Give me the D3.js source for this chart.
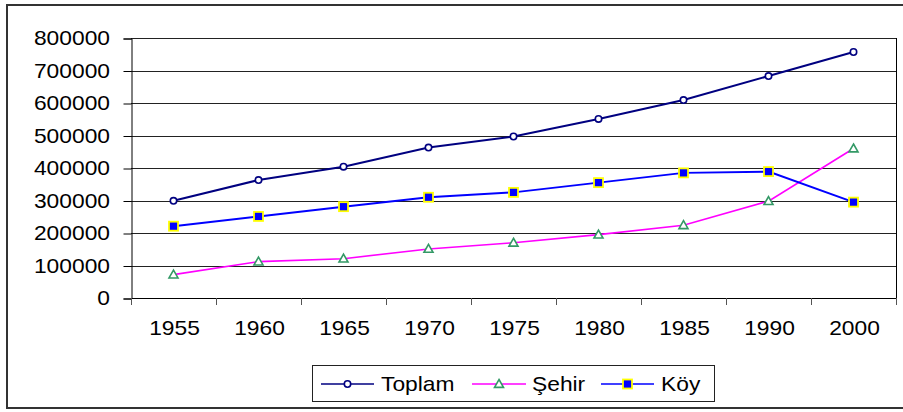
<!DOCTYPE html>
<html><head><meta charset="utf-8">
<script src="https://cdn.jsdelivr.net/npm/d3@7/dist/d3.min.js"></script>
<style>
html,body{margin:0;padding:0;background:#fff;}
svg{display:block;}
text{font-family:"Liberation Sans",Arial,sans-serif;font-size:20px;fill:#000;}
</style></head>
<body>
<svg id="chart" width="903" height="412"></svg>
<script>
const years = ["1955","1960","1965","1970","1975","1980","1985","1990","2000"];
const toplam = [299000,363000,404000,463000,497000,551000,609000,683000,757000];
const sehir  = [72000,112000,121000,151000,170000,195000,224000,298000,460000];
const koy    = [221000,251000,281000,310000,325000,355000,385000,389000,295000];
const yTicks = [0,100000,200000,300000,400000,500000,600000,700000,800000];
const seriesNames = ["Toplam","Şehir","Köy"];

const svg = d3.select("#chart");
const SX = 1.14;
function stretchText(g, x, y, str, anchor){
  return g.append("text")
    .attr("transform", `translate(${x},${y}) scale(${SX},1)`)
    .attr("text-anchor", anchor || "start")
    .text(str);
}

// outer border
svg.append("rect").attr("x",7).attr("y",5).attr("width",903).attr("height",403)
  .attr("fill","none").attr("stroke","#333").attr("stroke-width",2);

const L=131, R=896, T=38, B=298;
const x = d3.scaleBand().domain(years).range([L,R]).padding(0);
const y = d3.scaleLinear().domain([0,800000]).range([B,T]);

// gridlines
svg.append("g").selectAll("line").data(yTicks).join("line")
  .attr("x1",L).attr("x2",R)
  .attr("y1",d=>Math.round(y(d))+0.5).attr("y2",d=>Math.round(y(d))+0.5)
  .attr("stroke","#222").attr("stroke-width",1);

// plot right border
svg.append("line").attr("x1",R+0.5).attr("x2",R+0.5).attr("y1",T).attr("y2",B)
  .attr("stroke","#000");

// y axis
const yAxis = d3.axisLeft(y).tickValues(yTicks).tickSize(8).tickFormat(()=> "");
const yg = svg.append("g").attr("transform",`translate(${L+0.5},0.5)`).call(yAxis);
yg.select(".domain").attr("stroke","#000");
yg.selectAll(".tick line").attr("stroke","#000");
yTicks.forEach(t=>{
  stretchText(svg, 110, y(t)+7, String(t), "end");
});

// x axis
const xAxis = d3.axisBottom(x).tickSize(7).tickFormat(()=> "");
const xg = svg.append("g").attr("transform",`translate(0.5,${B+0.5})`).call(xAxis);
xg.select(".domain").remove();
xg.selectAll(".tick").remove();
svg.append("line").attr("x1",L).attr("x2",R).attr("y1",B+0.5).attr("y2",B+0.5).attr("stroke","#000");
const edges = years.map(d=>x(d)).concat([x(years[years.length-1])+x.bandwidth()]);
svg.append("g").selectAll("line").data(edges).join("line")
  .attr("x1",d=>Math.round(d)+0.5).attr("x2",d=>Math.round(d)+0.5)
  .attr("y1",B).attr("y2",B+7).attr("stroke","#555");
years.forEach(yr=>{
  stretchText(svg, x(yr)+x.bandwidth()/2+1, 335, yr, "middle");
});

const cx = d=>x(d)+x.bandwidth()/2;
const line = d3.line().x((v,i)=>cx(years[i])).y(v=>y(v));

// Toplam
svg.append("path").datum(toplam).attr("d",line).attr("fill","none")
  .attr("stroke","#000080").attr("stroke-width",2);
// Sehir
svg.append("path").datum(sehir).attr("d",line).attr("fill","none")
  .attr("stroke","#FF00FF").attr("stroke-width",1.6);
// Koy
svg.append("path").datum(koy).attr("d",line).attr("fill","none")
  .attr("stroke","#0000FF").attr("stroke-width",2);

function circleM(g,px,py){
  g.append("circle").attr("cx",px).attr("cy",py).attr("r",3.2)
   .attr("fill","#fff").attr("stroke","#000080").attr("stroke-width",1.6);
}
function triM(g,px,py){
  const s=4.5;
  g.append("path").attr("d",`M${px},${py-s}L${px+s},${py+s*0.75}L${px-s},${py+s*0.75}Z`)
   .attr("fill","#fff").attr("stroke","#339966").attr("stroke-width",1.6);
}
function sqM(g,px,py){
  g.append("rect").attr("x",px-4.5).attr("y",py-4.5).attr("width",9).attr("height",9)
   .attr("fill","#0000FF").attr("stroke","#FFFF00").attr("stroke-width",1.8);
}
const mg = svg.append("g");
toplam.forEach((v,i)=>circleM(mg,cx(years[i]),y(v)));
sehir.forEach((v,i)=>triM(mg,cx(years[i]),y(v)));
koy.forEach((v,i)=>sqM(mg,cx(years[i]),y(v)));

// legend
const lg = svg.append("g");
lg.append("rect").attr("x",312.5).attr("y",365.5).attr("width",402).attr("height",36)
  .attr("fill","#fff").attr("stroke","#222").attr("stroke-width",1);
const ly = 384;
const items = [
  {name:seriesNames[0], x1:321, x2:374, tx:381, col:"#000080", w:1.6, m:circleM},
  {name:seriesNames[1], x1:472, x2:526, tx:532, col:"#FF00FF", w:1.6, m:triM},
  {name:seriesNames[2], x1:601, x2:654, tx:661, col:"#0000FF", w:1.6, m:sqM}
];
items.forEach(it=>{
  lg.append("line").attr("x1",it.x1).attr("x2",it.x2).attr("y1",ly).attr("y2",ly)
    .attr("stroke",it.col).attr("stroke-width",it.w);
  it.m(lg,(it.x1+it.x2)/2,ly);
  stretchText(lg, it.tx, 391, it.name, "start");
});
</script>
</body></html>
